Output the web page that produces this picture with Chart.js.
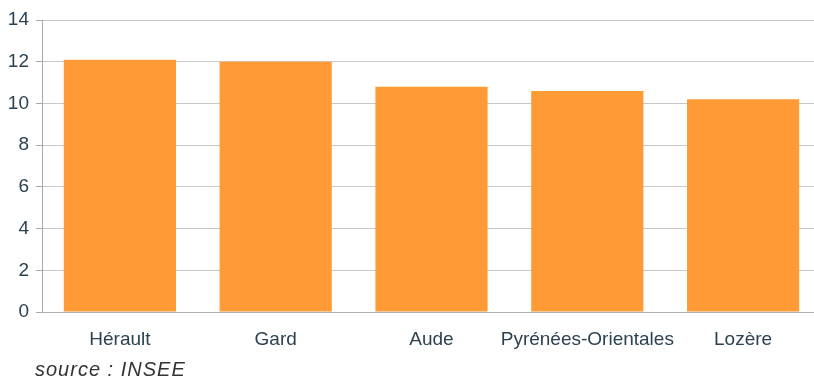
<!DOCTYPE html>
<html>
<head>
<meta charset="utf-8">
<script src="https://cdn.jsdelivr.net/npm/chart.js@4"></script>
<style>
  html, body { margin: 0; padding: 0; background: #fff; overflow: hidden; }
  #wrap { position: relative; width: 821px; height: 379px; }
  #source {
    position: absolute; left: 35px; top: 359px;
    font: italic 20px/20px "Liberation Sans", Arial, sans-serif;
    letter-spacing: 1px; color: #333;
  }
</style>
</head>
<body>
<div id="wrap">
  <canvas id="chart" width="821" height="379"></canvas>
  <div id="source">source : INSEE</div>
</div>
<script>
const departements = ["Hérault", "Gard", "Aude", "Pyrénées-Orientales", "Lozère"];
const valeurs = [12.1, 12.0, 10.8, 10.6, 10.2];

const labelFont = { family: "'Liberation Sans', Arial, sans-serif", size: 19 };
const labelColor = "#2b4251";

new Chart(document.getElementById("chart"), {
  type: "bar",
  data: {
    labels: departements,
    datasets: [{
      data: valeurs,
      backgroundColor: "#ff9a35",
      borderWidth: 0,
      categoryPercentage: 1,
      barPercentage: 0.72
    }]
  },
  options: {
    responsive: false,
    animation: false,
    devicePixelRatio: 1,
    layout: { padding: { top: 20, right: 0, bottom: 30, left: 0 } },
    plugins: { legend: { display: false }, tooltip: { enabled: false } },
    scales: {
      x: {
        grid: { display: false },
        border: { display: true, color: "#b0b0b0", width: 1 },
        ticks: { color: labelColor, font: labelFont, padding: 8, maxRotation: 0, autoSkip: false },
        afterFit: (scale) => { scale.height = 37; }
      },
      y: {
        min: 0,
        max: 14,
        ticks: { stepSize: 2, color: labelColor, font: labelFont, padding: 7 },
        grid: { color: "#c8c8c8", lineWidth: 1, tickLength: 6, tickColor: "#a9a9a9" },
        border: { display: true, color: "#a9a9a9", width: 1 },
        afterFit: (scale) => { scale.width = 42; }
      }
    }
  }
});
</script>
</body>
</html>
